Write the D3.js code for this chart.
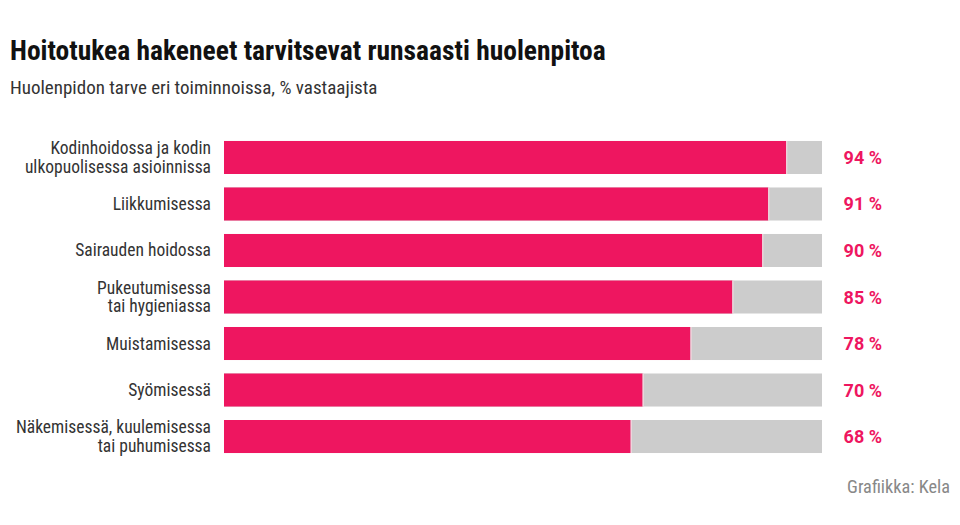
<!DOCTYPE html>
<html><head><meta charset="utf-8">
<script src="https://cdn.jsdelivr.net/npm/d3@7"></script>
<style>
body{margin:0;background:#fff;}
svg{font-family:"Liberation Sans Narrow","Roboto Condensed","Noto Sans",sans-serif;}
</style></head>
<body>
<svg id="c" width="960" height="525"></svg>
<script>
const categories = [
  ["Kodinhoidossa ja kodin","ulkopuolisessa asioinnissa"],
  ["Liikkumisessa"],
  ["Sairauden hoidossa"],
  ["Pukeutumisessa","tai hygieniassa"],
  ["Muistamisessa"],
  ["Syömisessä"],
  ["Näkemisessä, kuulemisessa","tai puhumisessa"]
];
const values = [94, 91, 90, 85, 78, 70, 68];
const title = "Hoitotukea hakeneet tarvitsevat runsaasti huolenpitoa";
const subtitle = "Huolenpidon tarve eri toiminnoissa, % vastaajista";
const source = "Grafiikka: Kela";

const svg = d3.select("#c");
const pink = "#ee1660", grey = "#cccccc";

const x = d3.scaleLinear().domain([0,100]).range([224,822]);
const y = d3.scaleBand().domain(d3.range(values.length)).range([134,460]).paddingInner(0.29).paddingOuter(0.15);

svg.append("text").attr("x",10).attr("y",59.5).attr("font-size",27.5).attr("font-weight","bold").attr("fill","#111").text(title);
svg.append("text").attr("x",10).attr("y",94).attr("font-size",19).attr("fill","#333").text(subtitle);

const g = svg.append("g");
values.forEach((v,i)=>{
  const y0 = y(i), h = y.bandwidth(), cy = y0 + h/2;
  g.append("rect").attr("x",x(0)).attr("y",y0).attr("width",x(100)-x(0)).attr("height",h).attr("fill",grey);
  g.append("rect").attr("x",x(0)).attr("y",y0).attr("width",x(v)-x(0)).attr("height",h).attr("fill",pink);
  g.append("rect").attr("x",x(v)).attr("y",y0).attr("width",1.2).attr("height",h).attr("fill","#f4d6df");
  g.append("text").attr("x",882).attr("y",cy+6.5).attr("text-anchor","end")
    .style("font-family","Roboto,'Noto Sans',sans-serif").attr("font-size",18).attr("font-weight","bold").attr("fill",pink).text(v+" %");
  const lines = categories[i];
  const lh = 18.2;
  const t = g.append("text").attr("text-anchor","end").attr("font-size",17.5).attr("fill","#333");
  lines.forEach((l,j)=>{
    t.append("tspan").attr("x",211).attr("y",cy+6+(j-(lines.length-1)/2)*lh).text(l);
  });
});

svg.append("text").attr("x",950).attr("y",493).attr("text-anchor","end").attr("font-size",18.3).attr("fill","#888").text(source);
</script>
</body></html>
